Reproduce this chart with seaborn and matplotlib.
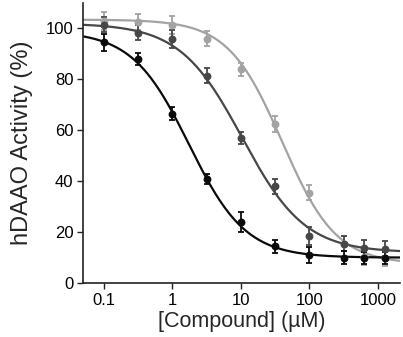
import matplotlib
matplotlib.use("Agg")
import matplotlib.pyplot as plt
import numpy as np
import pandas as pd
import seaborn as sns

# concentrations (uM)
conc = [0.1, 0.316, 1, 3.16, 10, 31.6, 100, 316, 631, 1260]

# mean activity (%) and error for each compound
black_y = [94.5, 88.0, 66.5, 41.0, 24.0, 14.5, 11.0, 10.0, 9.8, 9.8]
black_err = [3.5, 2.5, 2.5, 2.0, 4.0, 2.5, 3.0, 2.5, 2.5, 2.5]
dark_y = [101.5, 98.4, 96.0, 81.5, 57.0, 38.0, 18.5, 15.5, 13.8, 13.5]
dark_err = [3.0, 3.0, 3.5, 3.0, 2.5, 3.0, 3.5, 3.0, 3.0, 3.0]
light_y = [103.0, 102.5, 101.5, 96.0, 84.0, 62.5, 35.5, 15.5, 10.2, 9.8]
light_err = [3.5, 3.0, 3.5, 3.0, 2.5, 3.0, 3.0, 3.0, 3.0, 3.0]

# four-parameter logistic fit parameters (top, bottom, IC50, hill)
fits = {
    "black": (99.0, 10.0, 1.75, 1.05),
    "dark": (102.0, 12.0, 10.5, 0.95),
    "light": (103.5, 7.5, 40.0, 1.1),
}
colors = {"black": "#0a0a0a", "dark": "#474747", "light": "#a3a3a3"}


def hill(x, top, bottom, ic50, n):
    return bottom + (top - bottom) / (1 + (x / ic50) ** n)


points = pd.DataFrame({
    "conc": conc * 3,
    "activity": black_y + dark_y + light_y,
    "err": black_err + dark_err + light_err,
    "compound": ["black"] * 10 + ["dark"] * 10 + ["light"] * 10,
})

xs = np.logspace(np.log10(0.05), np.log10(2100), 300)
curves = pd.concat([
    pd.DataFrame({"conc": xs, "activity": hill(xs, *p), "compound": k})
    for k, p in fits.items()
])

sns.set_style("ticks")
plt.rcParams["font.family"] = ["Liberation Sans", "DejaVu Sans"]

fig = plt.figure(figsize=(4.03, 3.37), dpi=100)
ax = fig.add_axes([0.206, 0.160, 0.787, 0.831])

order = ["light", "dark", "black"]
for k in order:
    c = curves[curves["compound"] == k]
    sns.lineplot(data=c, x="conc", y="activity", color=colors[k], lw=1.6, ax=ax)
    p = points[points["compound"] == k]
    ax.errorbar(p["conc"], p["activity"], yerr=p["err"], fmt="none",
                ecolor=colors[k], elinewidth=1.3, capsize=2.5, capthick=1.3)
    sns.scatterplot(data=p, x="conc", y="activity", color=colors[k], s=32,
                    edgecolor=colors[k], linewidth=0, ax=ax, zorder=3)

ax.set_xscale("log")
ax.set_xlim(0.05, 2100)
ax.set_ylim(0, 110)
ax.set_xticks([0.1, 1, 10, 100, 1000])
ax.set_xticklabels(["0.1", "1", "10", "100", "1000"])
ax.xaxis.set_minor_locator(matplotlib.ticker.NullLocator())
ax.set_yticks([0, 20, 40, 60, 80, 100])
ax.tick_params(labelsize=12, length=4, width=1, colors="#222222", pad=3)
ax.tick_params(labelcolor="black")
for s in ["left", "bottom"]:
    ax.spines[s].set_linewidth(1.2)
    ax.spines[s].set_color("#222222")
sns.despine(ax=ax)
ax.set_xlabel("[Compound] (\u00b5M)", fontsize=15.5, labelpad=2)
ax.set_ylabel("hDAAO Activity (%)", fontsize=17, labelpad=9)

fig.savefig("out.png", dpi=100)
